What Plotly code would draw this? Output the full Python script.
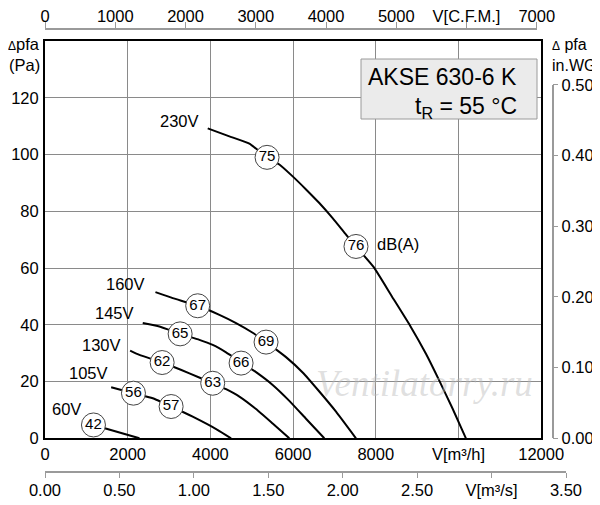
import plotly.graph_objects as go

# ---------------- data (m³/h , Pa) ----------------
curve_230V_x = [3935, 4459, 4943, 5370, 5668, 5990, 6313, 6634, 6956, 7280, 7521, 7950, 8390, 8830, 9213, 9530, 9856, 10180]
curve_230V_y = [109.2, 106.4, 103.8, 99.0, 96.5, 92.3, 87.7, 82.9, 77.6, 71.8, 67.6, 60.3, 50.0, 39.7, 29.8, 20.5, 10.5, 0]

curve_160V_x = [2671, 3089, 3693, 4218, 4621, 5023, 5346, 5829, 6231, 6634, 7038, 7521]
curve_160V_y = [51.5, 49.4, 46.7, 43.5, 40.6, 37.2, 33.9, 28.6, 23.2, 16.5, 9.4, 0]

curve_145V_x = [2364, 2767, 3268, 3734, 4056, 4379, 4742, 5104, 5506, 5909, 6312, 6755]
curve_145V_y = [40.6, 39.4, 36.8, 34.7, 32.9, 30.3, 26.8, 23.3, 18.8, 13.2, 6.9, 0]

curve_130V_x = [2059, 2284, 2833, 3493, 4056, 4379, 4701, 5104, 5506, 5909]
curve_130V_y = [30.9, 29.4, 26.7, 22.9, 19.4, 17.3, 14.7, 10.3, 5.2, 0]

curve_105V_x = [1600, 2139, 2606, 3050, 3572, 4180, 4500]
curve_105V_y = [18.0, 15.9, 14.1, 11.2, 7.6, 2.9, 0]

curve_60V_x = [1172, 2284]
curve_60V_y = [4.7, 0]

voltage_labels = ["230V", "160V", "145V", "130V", "105V", "60V"]
voltage_label_x = [3251, 1946, 1680, 1373, 1059, 512]
voltage_label_y = [111.8, 54.5, 44.3, 32.9, 22.9, 10.2]

db_text = ["75", "76", "67", "69", "65", "66", "62", "63", "56", "57", "42"]
db_x = [5370, 7521, 3693, 5346, 3268, 4742, 2833, 4056, 2139, 3050, 1172]
db_y = [99.0, 67.6, 46.7, 33.9, 36.8, 26.5, 26.7, 19.4, 15.9, 11.2, 4.7]

# axis ticks
m3h_ticks = [0, 2000, 4000, 6000, 8000, 10000, 12000]
m3h_text = ["0", "2000", "4000", "6000", "8000", "V[m³/h]", "12000"]
pa_ticks = [0, 20, 40, 60, 80, 100, 120]
cfm_ticks = [0, 1000, 2000, 3000, 4000, 5000, 6000, 7000]
cfm_text = ["0", "1000", "2000", "3000", "4000", "5000", "V[C.F.M.]", "7000"]
m3s_ticks = [0, 0.5, 1.0, 1.5, 2.0, 2.5, 3.0, 3.5]
m3s_text = ["0.00", "0.50", "1.00", "1.50", "2.00", "2.50", "V[m³/s]", "3.50"]
inwg_ticks = [0, 0.1, 0.2, 0.3, 0.4, 0.5]
inwg_text = ["0.00", "0.10", "0.20", "0.30", "0.40", "0.50"]

CFM_TO_M3H = 1.69901
PA_PER_INWG = 249.089
X_MAX = 12000
Y_MAX = 140

FONT = "Liberation Sans, Arial, Helvetica, sans-serif"
FS = 16.5

# ---------------- layout geometry (reference pixel coords) ----------------
OFF = 8                      # page body margin offset
W, H = 600 - OFF, 505 - OFF
PAPER_L, PAPER_R, PAPER_T, PAPER_B = 45, 566, 29, 472
ml, mt = PAPER_L - OFF, PAPER_T - OFF
mr, mb = W - (PAPER_R - OFF), H - (PAPER_B - OFF)
pw = PAPER_R - PAPER_L
ph = PAPER_B - PAPER_T
m3s_max_m3h = 3.5 * 3600
x_main_end = X_MAX / m3s_max_m3h
y_dom = [(PAPER_B - 438.3) / ph, 1 - (41 - PAPER_T) / ph]
y2_top = y_dom[0] + (y_dom[1] - y_dom[0]) * (0.5 * PA_PER_INWG) / Y_MAX


def px2paper(px, py):
    return (px - PAPER_L) / pw, (PAPER_B - py) / ph


fig = go.Figure()

curves = [(curve_230V_x, curve_230V_y), (curve_160V_x, curve_160V_y),
          (curve_145V_x, curve_145V_y), (curve_130V_x, curve_130V_y),
          (curve_105V_x, curve_105V_y), (curve_60V_x, curve_60V_y)]
for cx, cy in curves:
    fig.add_trace(go.Scatter(x=cx, y=cy, mode="lines",
                             line=dict(color="black", width=2, shape="spline", smoothing=0.4),
                             hoverinfo="skip", showlegend=False))

fig.add_trace(go.Scatter(x=db_x, y=db_y, mode="markers+text", text=db_text,
                         textposition="middle center",
                         textfont=dict(family=FONT, size=15, color="black"),
                         marker=dict(size=24, color="white", line=dict(color="#444", width=1)),
                         hoverinfo="skip", showlegend=False))

# dummy traces so secondary axes get drawn
fig.add_trace(go.Scatter(x=[None], y=[None], xaxis="x2", yaxis="y2", showlegend=False, hoverinfo="skip"))
fig.add_trace(go.Scatter(x=[None], y=[None], xaxis="x3", yaxis="y2", showlegend=False, hoverinfo="skip"))

annotations = []
# watermark (drawn first so other labels sit on top)
wx, wy = px2paper(424, 383)
annotations.append(dict(x=wx, y=wy, xref="paper", yref="paper", text="<i>Ventilatorry.ru</i>", showarrow=False,
                        xanchor="center", yanchor="middle",
                        font=dict(family="Liberation Serif, Times New Roman, serif", size=37,
                                  color="rgba(185,185,185,0.45)")))

for t, lx, ly in zip(voltage_labels, voltage_label_x, voltage_label_y):
    annotations.append(dict(x=lx, y=ly, xref="x", yref="y", text=t, showarrow=False,
                            xanchor="center", yanchor="middle",
                            font=dict(family=FONT, size=FS, color="black")))
annotations.append(dict(x=7988, y=68.3, xref="x", yref="y", text="dB(A)", showarrow=False,
                        xanchor="left", yanchor="middle", font=dict(family=FONT, size=FS, color="black")))

small_delta = "<span style='font-size:12px'>Δ</span>"
ax, ay = px2paper(42, 44)
annotations.append(dict(x=ax, y=ay, xref="paper", yref="paper", text=small_delta + "pfa", showarrow=False,
                        xanchor="right", yanchor="middle", font=dict(family=FONT, size=FS)))
ax, ay = px2paper(42, 65)
annotations.append(dict(x=ax, y=ay, xref="paper", yref="paper", text="(Pa)", showarrow=False,
                        xanchor="right", yanchor="middle", font=dict(family=FONT, size=FS)))
ax, ay = px2paper(550, 44)
annotations.append(dict(x=ax, y=ay, xref="paper", yref="paper", text=small_delta + " pfa", showarrow=False,
                        xanchor="left", yanchor="middle", font=dict(family=FONT, size=16)))
ax, ay = px2paper(550, 65)
annotations.append(dict(x=ax, y=ay, xref="paper", yref="paper", text="in.WG", showarrow=False,
                        xanchor="left", yanchor="middle", font=dict(family=FONT, size=16)))

# title box
bx0, by0 = px2paper(361, 119)
bx1, by1 = px2paper(537, 59)
fig.add_shape(type="rect", xref="paper", yref="paper", x0=bx0, y0=by0, x1=bx1, y1=by1,
              fillcolor="#ebebeb", line=dict(color="#9a9a9a", width=1))
tx, ty = px2paper(519, 77)
annotations.append(dict(x=tx, y=ty, xref="paper", yref="paper", text="AKSE 630-6 K", showarrow=False,
                        xanchor="right", yanchor="middle", font=dict(family=FONT, size=23)))
tx, ty = px2paper(519, 107)
annotations.append(dict(x=tx, y=ty, xref="paper", yref="paper", text="t<sub>R</sub> = 55 °C", showarrow=False,
                        xanchor="right", yanchor="middle", font=dict(family=FONT, size=23)))

sec_line = "#9a9a9a"
fig.update_layout(
    width=W, height=H,
    margin=dict(l=ml, r=mr, t=mt, b=mb, pad=0, autoexpand=False),
    paper_bgcolor="white", plot_bgcolor="rgba(0,0,0,0)",
    font=dict(family=FONT, size=FS, color="black"),
    showlegend=False,
    annotations=annotations,
    xaxis=dict(domain=[0, x_main_end], range=[0, X_MAX], anchor="y", automargin=False,
               tickvals=m3h_ticks, ticktext=m3h_text, ticks="", ticklabelstandoff=0,
               showline=True, linecolor="black", linewidth=2, mirror=True,
               showgrid=True, gridcolor="#8a8a8a", gridwidth=1, zeroline=False,
               tickfont=dict(family=FONT, size=FS)),
    yaxis=dict(domain=y_dom, range=[0, Y_MAX], anchor="x", automargin=False,
               tickvals=pa_ticks, ticks="", ticklabelstandoff=1,
               showline=True, linecolor="black", linewidth=2, mirror=True,
               showgrid=True, gridcolor="#8a8a8a", gridwidth=1, zeroline=False,
               tickfont=dict(family=FONT, size=FS)),
    xaxis2=dict(domain=[0, 7000 * CFM_TO_M3H / m3s_max_m3h], range=[0, 7000], anchor="free", position=1,
                side="top", automargin=False, tickvals=cfm_ticks, ticktext=cfm_text, ticks="outside", ticklen=6,
                ticklabelstandoff=-6,
                tickcolor=sec_line, showline=True, linecolor=sec_line, linewidth=1.5,
                showgrid=False, zeroline=False, tickfont=dict(family=FONT, size=FS)),
    xaxis3=dict(domain=[0, 1], range=[0, 3.5], anchor="free", position=0, side="bottom", automargin=False,
                tickvals=m3s_ticks, ticktext=m3s_text, ticks="outside", ticklen=5, ticklabelstandoff=-2,
                tickcolor=sec_line, showline=True, linecolor=sec_line, linewidth=1.5,
                showgrid=False, zeroline=False, tickfont=dict(family=FONT, size=FS)),
    yaxis2=dict(domain=[y_dom[0], y2_top], range=[0, 0.5], anchor="free", position=(552.5 - PAPER_L) / pw,
                side="right", automargin=False, tickvals=inwg_ticks, ticktext=inwg_text, ticks="outside", ticklen=5,
                tickcolor=sec_line, showline=True, linecolor=sec_line, linewidth=1.5,
                showgrid=False, zeroline=False, tickfont=dict(family=FONT, size=FS)),
)

fig.write_html("out.html")
